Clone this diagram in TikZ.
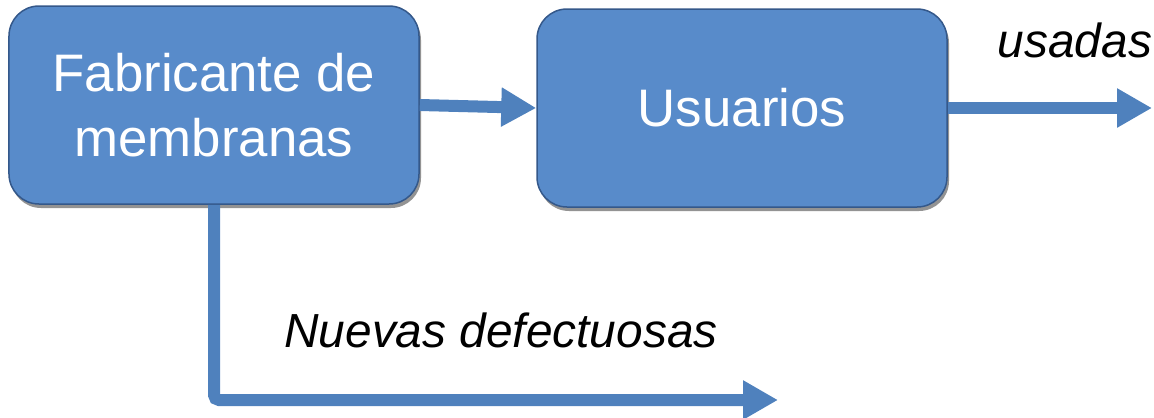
\documentclass[tikz,border=0pt]{standalone}
\usepackage{fontspec}
\setmainfont{Liberation Sans}
\usetikzlibrary{arrows.meta,shadows}
\definecolor{cajaazul}{RGB}{88,139,202}
\definecolor{bordeazul}{RGB}{52,88,138}
\definecolor{flechaazul}{RGB}{79,129,189}
\tikzset{>={Triangle[length=35bp,width=37bp]}}
\tikzset{flujo/.style={draw=flechaazul,line width=12bp,->}}

\begin{document}
\begin{tikzpicture}[x=1bp,y=-1bp]

\tikzstyle{caja}=[rounded corners=30bp,fill=cajaazul,draw=bordeazul,line width=1.5bp,
  minimum width=410bp,minimum height=198bp,text=white,align=center,
  font=\fontsize{53}{65}\selectfont,
  drop shadow={shadow xshift=2bp,shadow yshift=-4bp,fill=black!65,opacity=0.65}]
\tikzstyle{rotulo}=[font=\itshape\fontsize{48}{54}\selectfont]

\useasboundingbox (0,0) rectangle (1154,417);

\node[caja] (fab) at (214,105) {Fabricante de\\membranas};
\node[caja] (usu) at (742,108) {Usuarios};

\coordinate (salida) at (1152,108);
\coordinate (rechazo) at (778,400);

\draw[flujo] (fab.east) -- (usu.west);
\draw[flujo] (usu.east) -- (salida);
\draw[flujo,rounded corners=5bp] (fab.south) |- (rechazo);

\node[rotulo] (usadas) at (1075,40) {usadas};
\node[rotulo] (nuevas) at (501,330) {Nuevas defectuosas};
\end{tikzpicture}
\end{document}
